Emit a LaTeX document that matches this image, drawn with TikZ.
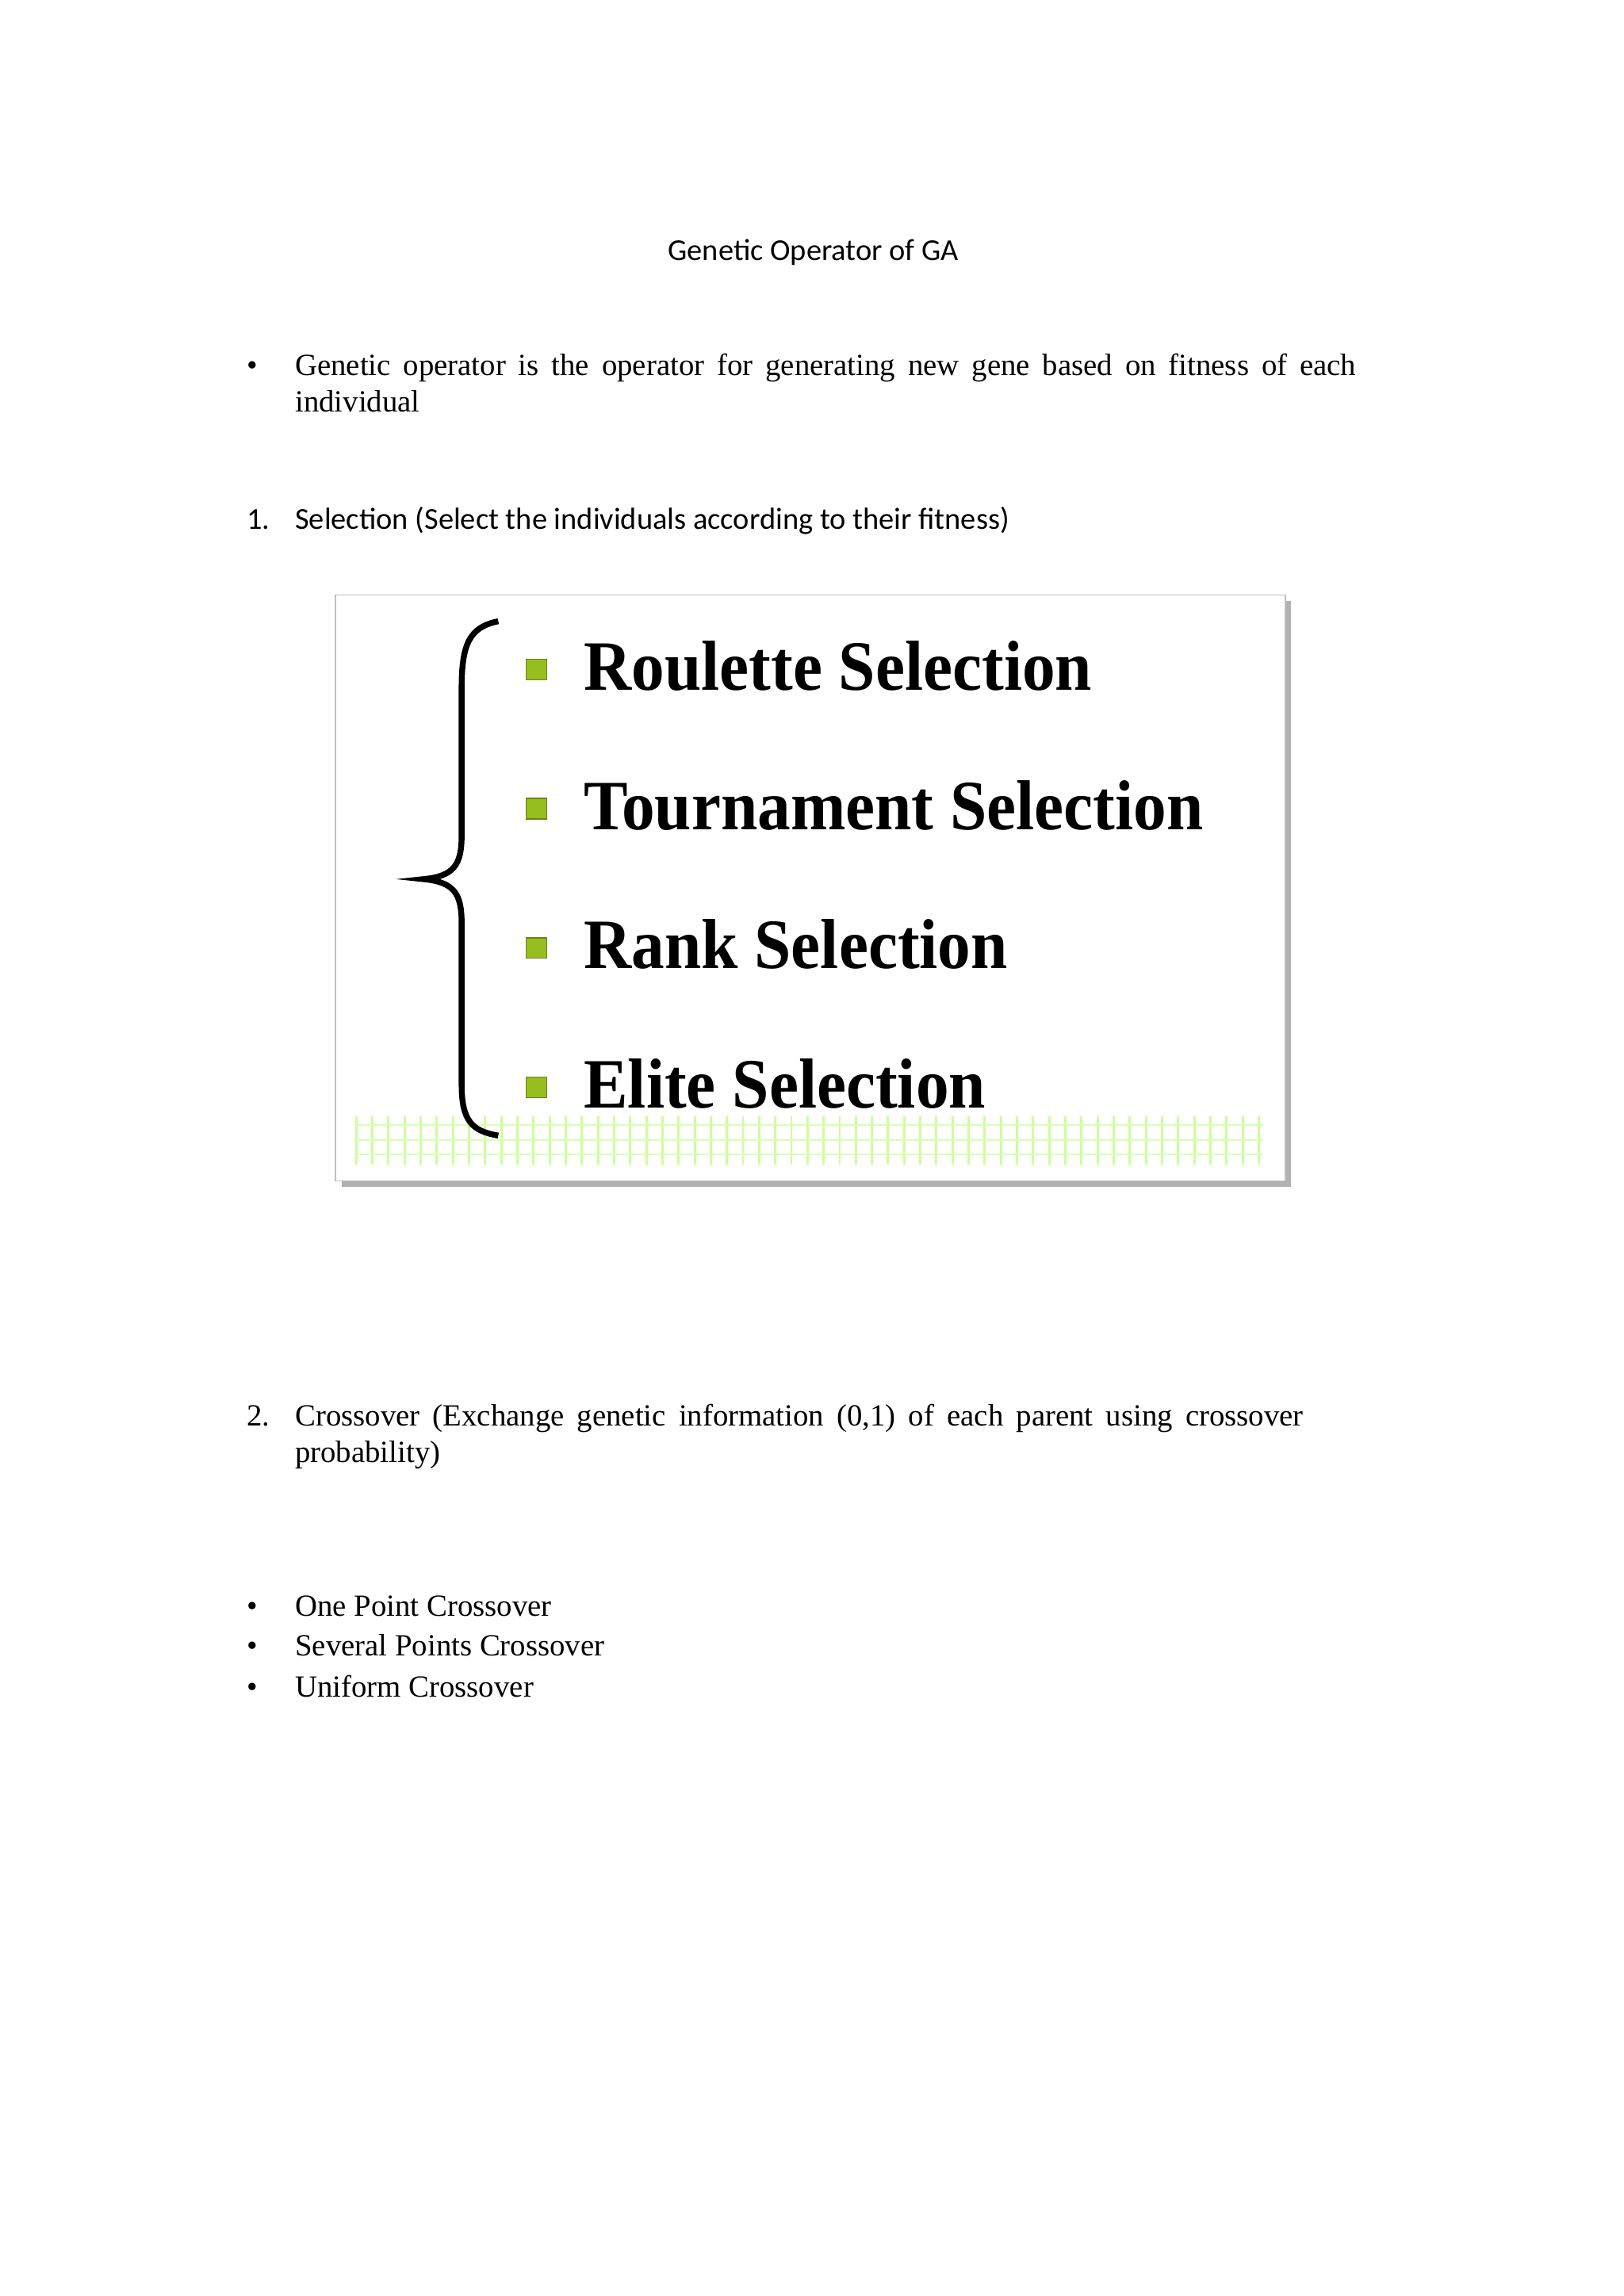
\documentclass[tikz,border=0pt]{standalone}
\usepackage{fontspec}
\setmainfont{Liberation Serif}
\newfontfamily\calib{Carlito}
\definecolor{sqc}{RGB}{150,190,30}
\begin{document}
\begin{tikzpicture}[x=0.5pt,y=-0.5pt,
  body/.style={anchor=base west,inner sep=0,font=\fontsize{10.5}{12.5}\selectfont},
  cal/.style={anchor=base west,inner sep=0,font=\calib\fontsize{10.4}{12}\selectfont},
  item/.style={anchor=base west,inner sep=0,font=\bfseries\fontsize{23}{26}\selectfont,xscale=0.98,yscale=1.05},
  sq/.style={fill=sqc,draw=sqc!70!black,minimum size=7pt,inner sep=0}]
\useasboundingbox (0,0) rectangle (1108,1567);
\node[cal,anchor=base] (title) at (555,178) {Genetic Operator of GA};
\node[body] (b0) at (168,256) {\textbullet};
\node[body,text width=362pt,align=justify] (t0) at (201,256) {Genetic operator is the operator for generating new gene based on fitness of each\linebreak individual};
\node[cal] (n1) at (168,361) {1.};
\node[cal] (s1) at (201,361) {Selection (Select the individuals according to their fitness)};
% box
\fill[gray!60] (233,410) rectangle (881,810);
\draw[gray!50,fill=white] (229,406) rectangle (877,806);
% grid band
\begin{scope}
\foreach \x in {243,254,...,862} \draw[green!50!yellow!40,line width=0.8pt] (\x,762) -- (\x,795);
\foreach \y in {768,778,788} \draw[green!50!yellow!30,line width=0.6pt] (243,\y) -- (862,\y);
\end{scope}
% brace
\draw[line width=2pt] (340,424) .. controls (320,428) and (315,440) .. (315,470)
  -- (315,570) .. controls (315,590) and (310,598) .. (289,600)
  .. controls (310,602) and (315,610) .. (315,630)
  -- (315,740) .. controls (315,765) and (322,772) .. (340,775);
\foreach \y/\t/\n in {457/Roulette Selection/r,552/Tournament Selection/t,647/Rank Selection/k,742/Elite Selection/e}{
  \node[sq] (q\n) at (366,\y) {};
  \node[item] (i\n) at (398,\y+14) {\t};
}
\node[body] (n2) at (168,973) {2.};
\node[body,text width=344pt,align=justify] (t2) at (201,973) {Crossover (Exchange genetic information (0,1) of each parent using crossover probability)};
\foreach \y/\t/\n in {1103/One Point Crossover/a,1130/Several Points Crossover/b,1158/Uniform Crossover/c}{
  \node[body] (bb\n) at (168,\y) {\textbullet};
  \node[body] (c\n) at (201,\y) {\t};
}
\end{tikzpicture}
\end{document}
